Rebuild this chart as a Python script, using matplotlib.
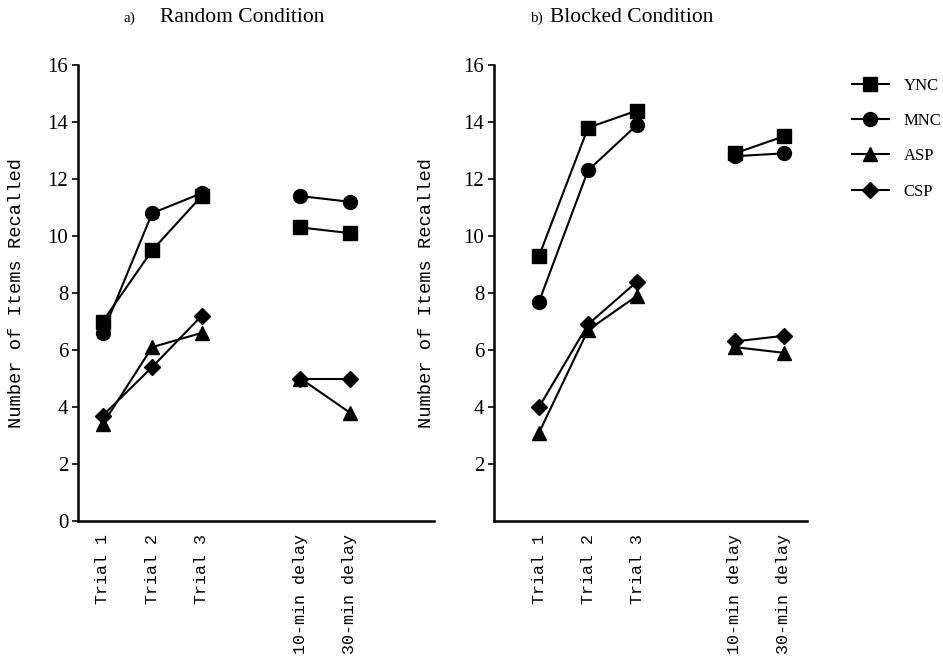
import matplotlib
matplotlib.use("Agg")
import matplotlib.pyplot as plt
from matplotlib.lines import Line2D

# x positions of the five recall tests (gap between trial 3 and the delays)
positions = [1, 2, 3, 5, 6]
tick_labels = ["Trial 1", "Trial 2", "Trial 3", "10-min delay", "30-min delay"]
groups = ["YNC", "MNC", "ASP", "CSP"]
markers = {"YNC": "s", "MNC": "o", "ASP": "^", "CSP": "D"}
msizes = {"YNC": 10, "MNC": 10, "ASP": 10.5, "CSP": 8}

# a) random condition
random_ync = [7.0, 9.5, 11.4, 10.3, 10.1]
random_mnc = [6.6, 10.8, 11.5, 11.4, 11.2]
random_asp = [3.4, 6.1, 6.6, 5.0, 3.8]
random_csp = [3.7, 5.4, 7.2, 5.0, 5.0]

# b) blocked condition
blocked_ync = [9.3, 13.8, 14.4, 12.9, 13.5]
blocked_mnc = [7.7, 12.3, 13.9, 12.8, 12.9]
blocked_asp = [3.1, 6.7, 7.9, 6.1, 5.9]
blocked_csp = [4.0, 6.9, 8.4, 6.3, 6.5]

random_data = dict(zip(groups, [random_ync, random_mnc, random_asp, random_csp]))
blocked_data = dict(zip(groups, [blocked_ync, blocked_mnc, blocked_asp, blocked_csp]))

serif = "Liberation Serif"
mono = "Liberation Mono"


def draw_panel(ax, data, xlim, yticks, label_x):
    for g in groups:
        vals = data[g]
        # trials and delays are drawn as separate segments
        ax.plot(positions[:3], vals[:3], color="black", lw=1.5,
                marker=markers[g], ms=msizes[g], mfc="black", mec="black")
        ax.plot(positions[3:], vals[3:], color="black", lw=1.5,
                marker=markers[g], ms=msizes[g], mfc="black", mec="black")
    ax.set_xlim(*xlim)
    ax.set_ylim(0, 16)
    ax.set_yticks(yticks)
    ax.set_yticklabels([str(t) for t in yticks], fontfamily=serif, fontsize=15)
    ax.set_xticks(positions)
    ax.set_xticklabels(tick_labels, rotation=90, fontfamily=mono, fontsize=12,
                       va="top")
    ax.tick_params(axis="x", length=0, pad=9)
    ax.tick_params(axis="y", length=4, width=1.2, direction="out", pad=3)
    for s in ["top", "right"]:
        ax.spines[s].set_visible(False)
    for s in ["left", "bottom"]:
        ax.spines[s].set_linewidth(1.8)
    ax.set_ylabel("Number of Items Recalled", fontfamily=mono, fontsize=13.5)
    ax.yaxis.set_label_coords(label_x, 0.5)


fig = plt.figure(figsize=(9.43, 6.65), dpi=100)
ax1 = fig.add_axes([78 / 943, 1 - 521 / 665, (434 - 78) / 943, (521 - 65) / 665])
ax2 = fig.add_axes([494 / 943, 1 - 521 / 665, (807 - 494) / 943, (521 - 65) / 665])

draw_panel(ax1, random_data, (0.5, 7.7), list(range(0, 17, 2)), -0.148)
draw_panel(ax2, blocked_data, (0.08, 6.47), list(range(2, 17, 2)), -0.19)

fig.text(124 / 943, 1 - 18 / 665, "a)", fontfamily=serif, fontsize=11, va="center")
fig.text(160 / 943, 1 - 18 / 665, "Random Condition", fontfamily=serif,
         fontsize=15.5, va="center")
fig.text(530 / 943, 1 - 18 / 665, "b)", fontfamily=serif, fontsize=11, va="center")
fig.text(550 / 943, 1 - 18 / 665, "Blocked Condition", fontfamily=serif,
         fontsize=15.5, va="center")

handles = [Line2D([], [], color="black", lw=1.5, marker=markers[g], ms=msizes[g],
                  mfc="black", mec="black") for g in groups]
fig.legend(handles, groups, loc="upper left",
           bbox_to_anchor=(852 / 943, 1 - 78 / 665), frameon=False,
           prop={"family": serif, "size": 12}, handlelength=2.2,
           handletextpad=0.9, labelspacing=1.15, borderpad=0, borderaxespad=0)

fig.savefig("out.png", dpi=100)
